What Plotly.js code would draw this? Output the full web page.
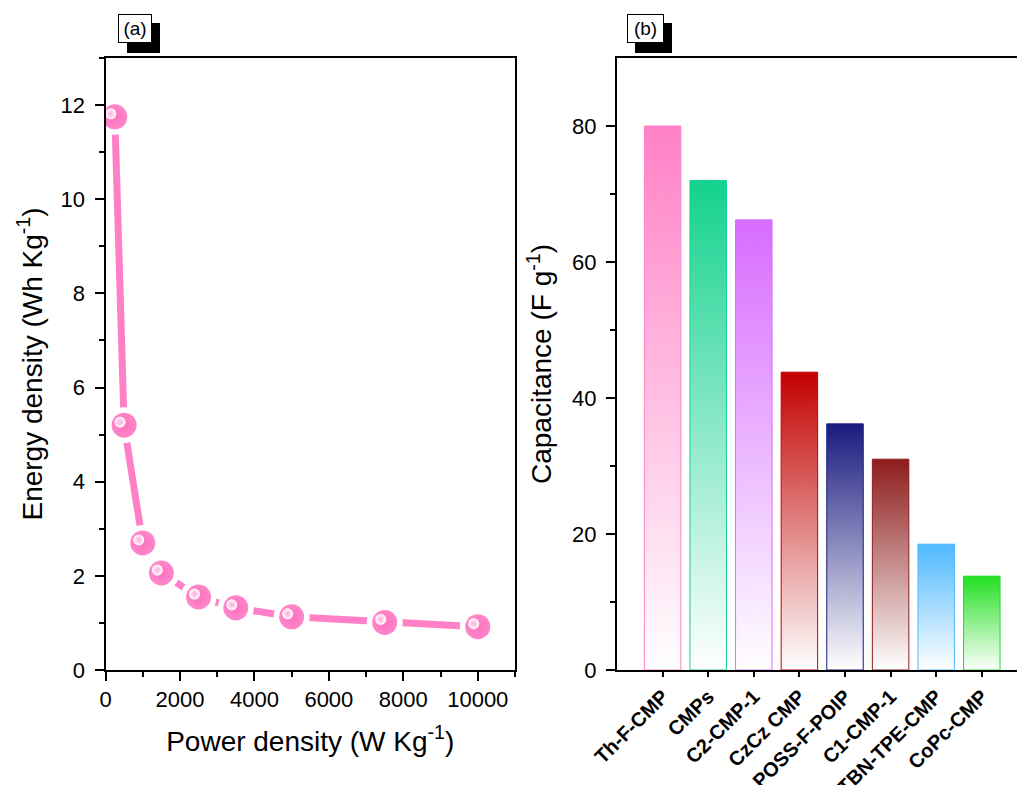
<!DOCTYPE html>
<html>
<head>
<meta charset="utf-8">
<script src="https://cdn.plot.ly/plotly-3.0.1.min.js"></script>
<style>html,body{margin:0;padding:0;background:#fff;overflow:hidden}</style>
</head>
<body>
<div id="chart" style="width:1017px;height:785px"></div>
<script>
// ---- Data (panel a) ----
const powerDensity = [250, 500, 1000, 1500, 2500, 3500, 5000, 7500, 10000];
const energyDensity = [11.75, 5.2, 2.7, 2.06, 1.55, 1.32, 1.13, 1.01, 0.92];

// ---- Data (panel b) ----
const materials = ['Th-F-CMP', 'CMPs', 'C2-CMP-1', 'CzCz CMP', 'POSS-F-POIP', 'C1-CMP-1', 'TBN-TPE-CMP', 'CoPc-CMP'];
const capacitance = [80, 72, 66.2, 43.8, 36.2, 31, 18.5, 13.8];
const barColors = ['#ff80c6', '#14d28e', '#d86cff', '#c40000', '#1b1b80', '#8e1c1c', '#4fb9ff', '#22e022'];

const pink = '#ff80c6';
const FONT = 'Arial, "Liberation Sans", sans-serif';
const W = 1017, H = 785;
const px = v => v / W;
const py = v => 1 - v / H;

const positions = materials.map((_, i) => i + 1);

function gradientImage(color) {
  const c = document.createElement('canvas');
  c.width = 8; c.height = 256;
  const g = c.getContext('2d');
  const grd = g.createLinearGradient(0, 0, 0, 256);
  grd.addColorStop(0, color);
  grd.addColorStop(1, '#ffffff');
  g.fillStyle = grd;
  g.fillRect(0, 0, 8, 256);
  return c.toDataURL('image/png');
}

const barWidth = 0.8;
const images = materials.map((m, i) => ({
  source: gradientImage(barColors[i]),
  xref: 'x2', yref: 'y2',
  x: positions[i] - barWidth / 2, y: capacitance[i],
  sizex: barWidth, sizey: capacitance[i],
  sizing: 'stretch', xanchor: 'left', yanchor: 'top',
  layer: 'below'
}));

const xRangeA = [0, 11000], yRangeA = [0, 13];
const domAx = [px(105.5), px(515)];
const domY = [py(670), py(58)];
// highlight offset in pixels (to the upper left)
const hlDx = 4, hlDy = 3;
const xScaleA = (xRangeA[1] - xRangeA[0]) / (515 - 105.5);
const yScaleA = (yRangeA[1] - yRangeA[0]) / (670 - 58);

const traces = [
  { x: powerDensity, y: energyDensity, type: 'scatter', mode: 'lines',
    line: { color: pink, width: 7 }, xaxis: 'x', yaxis: 'y', hoverinfo: 'skip' },
  { x: powerDensity, y: energyDensity, type: 'scatter', mode: 'markers',
    marker: { color: '#ffffff', size: 36 }, xaxis: 'x', yaxis: 'y', hoverinfo: 'skip' },
  { x: powerDensity, y: energyDensity, type: 'scatter', mode: 'markers',
    marker: { color: '#ff86c9', size: 25, gradient: { type: 'radial', color: '#fb72bf' } },
    xaxis: 'x', yaxis: 'y' },
  { x: powerDensity, y: energyDensity, type: 'scatter', mode: 'markers',
    marker: { color: '#ffffff', size: 11, gradient: { type: 'radial', color: '#ffa8d8' } },
    xaxis: 'x3', yaxis: 'y3', hoverinfo: 'skip' },
  { x: positions, y: capacitance, type: 'bar', width: barWidth, hovertext: materials,
    textposition: 'none',
    marker: { color: 'rgba(0,0,0,0)', line: { color: barColors, width: 1 } },
    xaxis: 'x2', yaxis: 'y2', hoverinfo: 'text+y' },
];

const tickFont = { family: FONT, size: 22, color: '#000' };
const titleFont = { family: FONT, size: 28, color: '#000' };
const common = { showgrid: false, zeroline: false, showline: true, linecolor: '#000', linewidth: 2,
  ticks: 'outside', tickcolor: '#000', tickwidth: 2, ticklen: 9, tickfont: tickFont };

const xRangeB = [0, (1017 - 617) / 45.6];

const layout = {
  width: W, height: H,
  margin: { l: 0, r: 0, t: 0, b: 0 },
  paper_bgcolor: '#ffffff', plot_bgcolor: 'rgba(0,0,0,0)',
  showlegend: false,
  font: { family: FONT, color: '#000' },
  xaxis: Object.assign({}, common, {
    domain: domAx, range: xRangeA, anchor: 'y', mirror: true,
    tickmode: 'linear', tick0: 0, dtick: 2000, tickformat: 'd',
    minor: { dtick: 1000, tick0: 0, ticks: 'outside', ticklen: 5, tickwidth: 2, tickcolor: '#000' },
    title: { text: 'Power density (W Kg<sup>-1</sup>)', font: titleFont, standoff: 20 }
  }),
  yaxis: Object.assign({}, common, {
    domain: domY, range: yRangeA, anchor: 'x', mirror: true, ticklabelstandoff: 5,
    tickmode: 'linear', tick0: 0, dtick: 2,
    minor: { dtick: 1, tick0: 0, ticks: 'outside', ticklen: 5, tickwidth: 2, tickcolor: '#000' },
    title: { text: 'Energy density (Wh Kg<sup>-1</sup>)', font: titleFont, standoff: 10 }
  }),
  xaxis3: { overlaying: 'x', anchor: 'y3', visible: false,
    range: [xRangeA[0] + hlDx * xScaleA, xRangeA[1] + hlDx * xScaleA] },
  yaxis3: { overlaying: 'y', anchor: 'x3', visible: false,
    range: [yRangeA[0] - hlDy * yScaleA, yRangeA[1] - hlDy * yScaleA] },
  xaxis2: Object.assign({}, common, {
    domain: [px(617), 1], range: xRangeB, anchor: 'y2', mirror: true,
    tickmode: 'array', tickvals: positions, ticktext: materials, ticklen: 5,
    tickangle: -45, tickfont: { family: FONT, size: 20, color: '#000', weight: 'bold' }
  }),
  xaxis4: { overlaying: 'x2', anchor: 'y2', range: xRangeB, showline: false, showgrid: false,
    zeroline: false, showticklabels: false, ticks: 'outside', ticklen: 9, tickwidth: 2,
    tickcolor: '#000', tickmode: 'array', tickvals: [0, 2, 4, 6, 8] },
  yaxis2: Object.assign({}, common, {
    domain: domY, range: [0, 90], anchor: 'x2', mirror: false, ticklabelstandoff: 5,
    tickmode: 'array', tickvals: [0, 20, 40, 60, 80],
    minor: { tickmode: 'array', tickvals: [10, 30, 50, 70], ticks: 'outside', ticklen: 5, tickwidth: 2, tickcolor: '#000' },
    title: { text: 'Capacitance (F g<sup>-1</sup>)', font: titleFont, standoff: 12 }
  }),
  images: images,
  shapes: [
    { type: 'rect', xref: 'paper', yref: 'paper', x0: px(127), x1: px(160), y0: py(53), y1: py(23),
      fillcolor: '#000', line: { width: 0 }, layer: 'above' },
    { type: 'rect', xref: 'paper', yref: 'paper', x0: px(635), x1: px(672), y0: py(53), y1: py(23),
      fillcolor: '#000', line: { width: 0 }, layer: 'above' }
  ],
  annotations: [
    { xref: 'paper', yref: 'paper', x: px(135), y: py(28.5), xanchor: 'center', yanchor: 'middle',
      text: '(a)', font: { color: '#000', size: 19, family: FONT }, bgcolor: '#fff', bordercolor: '#000',
      borderwidth: 1, borderpad: 0, width: 32, height: 27, showarrow: false },
    { xref: 'paper', yref: 'paper', x: px(645), y: py(28.5), xanchor: 'center', yanchor: 'middle',
      text: '(b)', font: { color: '#000', size: 19, family: FONT }, bgcolor: '#fff', bordercolor: '#000',
      borderwidth: 1, borderpad: 0, width: 35, height: 27, showarrow: false }
  ]
};

Plotly.newPlot('chart', traces, layout, { displayModeBar: false, staticPlot: true });
</script>
</body>
</html>
